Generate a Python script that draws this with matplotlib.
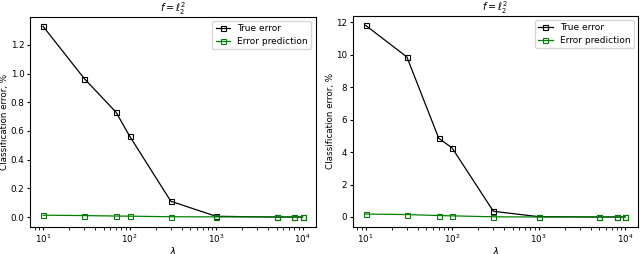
import matplotlib
matplotlib.use('Agg')
import matplotlib.pyplot as plt

lam = [10, 30, 70, 100, 300, 1000, 5000, 8000, 10000]

# left panel
true_left = [1.33, 0.965, 0.73, 0.565, 0.11, 0.005, 0.0, 0.0, 0.0]
pred_left = [0.013, 0.010, 0.007, 0.006, 0.002, 0.001, 0.001, 0.001, 0.001]

# right panel
true_right = [11.8, 9.85, 4.85, 4.25, 0.35, 0.02, 0.0, 0.0, 0.0]
pred_right = [0.18, 0.15, 0.09, 0.07, 0.01, 0.0, 0.0, 0.0, 0.0]

plt.rcParams['font.size'] = 6.3
fig = plt.figure(figsize=(6.4, 2.54), dpi=100)
ax1 = fig.add_axes([0.047, 0.108, 0.446, 0.826])
ax2 = fig.add_axes([0.551, 0.108, 0.446, 0.83])

for ax, t, p in ((ax1, true_left, pred_left), (ax2, true_right, pred_right)):
    ax.plot(lam, t, color='black', marker='s', mfc='none', ms=3.6, mew=0.8, lw=0.9, label='True error')
    ax.plot(lam, p, color='green', marker='s', mfc='none', ms=3.6, mew=0.8, lw=0.9, label='Error prediction')
    ax.set_xscale('log')
    ax.set_title(r'$f = \ell_2^2$', fontsize=7, pad=1.5)
    ax.set_xlabel(r'$\lambda$', fontsize=7.5, labelpad=0)
    ax.set_ylabel('Classification error, %', labelpad=1)
    ax.tick_params(labelsize=6.3, length=2.5, pad=1.5)
    ax.legend(loc='upper right', fontsize=6.5, handlelength=1.6, borderpad=0.35, labelspacing=0.4)

fig.savefig('out.png', dpi=100)
